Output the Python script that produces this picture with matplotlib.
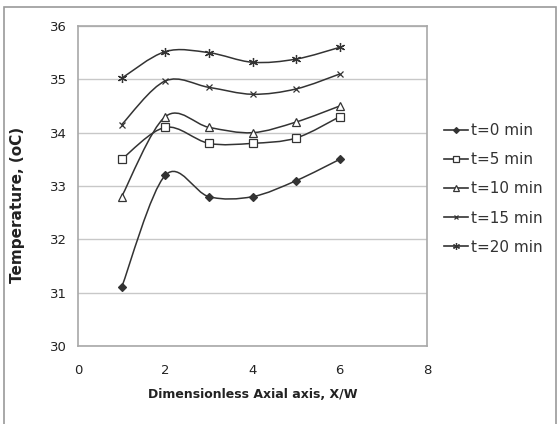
import matplotlib
matplotlib.use("Agg")
import matplotlib.pyplot as plt
from matplotlib.path import Path
from matplotlib.patches import PathPatch, Rectangle
from matplotlib.lines import Line2D
import numpy as np

plt.rcParams["font.family"] = ["DejaVu Sans"]

x_pos = [1, 2, 3, 4, 5, 6]
t0 = [31.1, 33.2, 32.8, 32.8, 33.1, 33.5]
t5 = [33.5, 34.1, 33.8, 33.8, 33.9, 34.3]
t10 = [32.8, 34.3, 34.1, 34.0, 34.2, 34.5]
t15 = [34.15, 34.97, 34.85, 34.72, 34.82, 35.1]
t20 = [35.02, 35.52, 35.5, 35.32, 35.38, 35.6]
labels = ["t=0 min", "t=5 min", "t=10 min", "t=15 min", "t=20 min"]

ink = "#333333"
styles = [
    dict(marker="D", ms=4.5, mfc=ink),
    dict(marker="s", ms=5.5, mfc="white"),
    dict(marker="^", ms=5.5, mfc="white"),
    dict(marker="x", ms=5, mfc=ink),
    dict(marker=(6, 2, 0), ms=6.5, mfc=ink),
]


def smooth_path(xs, ys):
    # Excel-like smoothed line as cubic Bezier segments through the points
    p = np.column_stack([xs, ys]).astype(float)
    ext = np.vstack([p[0], p, p[-1]])
    verts = [p[0]]
    codes = [Path.MOVETO]
    for i in range(1, len(ext) - 2):
        c1 = ext[i] + (ext[i + 1] - ext[i - 1]) / 6
        c2 = ext[i + 1] - (ext[i + 2] - ext[i]) / 6
        verts += [c1, c2, ext[i + 1]]
        codes += [Path.CURVE4] * 3
    return Path(verts, codes)


fig = plt.figure(figsize=(5.57, 4.24), dpi=100)
fig.patches.append(Rectangle((4 / 557, -0.01), 552 / 557, 1 - 7 / 424 + 0.01,
                             transform=fig.transFigure, fill=False,
                             edgecolor="#9a9a9a", lw=1.2))
ax = fig.add_axes([78 / 557, 78 / 424, 349 / 557, 320 / 424])

handles = []
for ys, st, lab in zip([t0, t5, t10, t15, t20], styles, labels):
    ax.add_patch(PathPatch(smooth_path(x_pos, ys), fill=False,
                           edgecolor=ink, lw=1.1, zorder=2))
    ax.plot(x_pos, ys, ls="none", color=ink, mec=ink, mew=0.9, zorder=3, **st)
    leg_st = dict(st, ms=st["ms"] - 1.5)
    handles.append(Line2D([], [], color=ink, lw=1.2, mec=ink, mew=0.9,
                          label=lab, **leg_st))

ax.set_xlim(0, 8)
ax.set_ylim(30, 36)
ax.set_xticks([0, 2, 4, 6, 8])
ax.set_yticks(range(30, 37))
ax.grid(axis="y", color="#c8c8c8", lw=1.0)
ax.set_axisbelow(True)
for sp in ax.spines.values():
    sp.set_color("#a8a8a8")
    sp.set_linewidth(1.2)
ax.tick_params(length=0, labelsize=9.5, colors="#222222")
ax.tick_params(axis="y", pad=8)
ax.tick_params(axis="x", pad=13)
ax.set_xlabel("Dimensionless Axial axis, X/W", fontsize=9,
              fontweight="bold", color="#222222", labelpad=8)
ax.set_ylabel("Temperature, (oC)", fontsize=11, fontweight="bold",
              color="#222222")
ax.yaxis.set_label_coords(-0.152, 0.44)

fig.legend(handles=handles, loc="center left",
           bbox_to_anchor=(444 / 557, 1 - 189 / 424), frameon=False,
           fontsize=11, handlelength=1.6, handletextpad=0.15,
           labelspacing=0.92, labelcolor="#333333", borderaxespad=0,
           borderpad=0)

fig.savefig("out.png", dpi=100)
